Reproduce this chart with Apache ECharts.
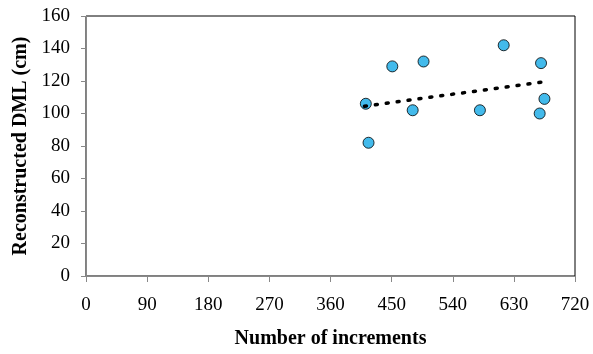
<!DOCTYPE html>
<html>
<head>
<meta charset="utf-8">
<script src="https://cdn.jsdelivr.net/npm/echarts@6/dist/echarts.min.js"></script>
<style>
  html, body { margin: 0; padding: 0; background: #fff; }
  #chart { width: 593px; height: 354px; }
</style>
</head>
<body>
<div id="chart"></div>
<script>
// data
var increments = [412, 416, 451, 497, 481, 580, 615, 670, 675, 668];
var dml = [106, 82, 129, 132, 102, 102, 142, 131, 109, 100];
// trend line ends
var trendX = [410, 675];
var trendY = [104.5, 119.5];

var points = increments.map(function (x, i) { return [x, dml[i]]; });
var trend = trendX.map(function (x, i) { return [x, trendY[i]]; });

var font = '"Liberation Serif", "Times New Roman", serif';

var chart = echarts.init(document.getElementById('chart'));
chart.setOption({
  animation: false,
  grid: {
    left: 86, right: 18, top: 16, bottom: 77,
    show: true, borderColor: '#000', borderWidth: 1
  },
  xAxis: {
    type: 'value', min: 0, max: 720, interval: 90,
    name: 'Number of increments', nameLocation: 'middle', nameGap: 53,
    nameTextStyle: { fontFamily: font, fontSize: 20, fontWeight: 'bold', color: '#000' },
    axisLine: { show: true, lineStyle: { color: '#888', width: 1 } },
    axisTick: { show: true, length: 6, lineStyle: { color: '#888' } },
    axisLabel: { fontFamily: font, fontSize: 19, color: '#000', margin: 20 },
    splitLine: { show: false }
  },
  yAxis: {
    type: 'value', min: 0, max: 160, interval: 20,
    name: 'Reconstructed DML (cm)', nameLocation: 'middle', nameGap: 55,
    nameTextStyle: { fontFamily: font, fontSize: 20, fontWeight: 'bold', color: '#000' },
    axisLine: { show: true, lineStyle: { color: '#888', width: 1 } },
    axisTick: { show: true, length: 5, lineStyle: { color: '#888' } },
    axisLabel: { fontFamily: font, fontSize: 19, color: '#000', margin: 16 },
    splitLine: { show: false }
  },
  series: [
    {
      type: 'line',
      data: trend,
      symbol: 'none',
      lineStyle: { color: '#000', width: 3.5, type: [2, 9], cap: 'round' },
      z: 3
    },
    {
      type: 'scatter',
      data: points,
      symbol: 'circle',
      symbolSize: 11,
      itemStyle: { color: '#14a9e6', borderColor: '#000', borderWidth: 1 },
      z: 2
    }
  ]
});
</script>
</body>
</html>
